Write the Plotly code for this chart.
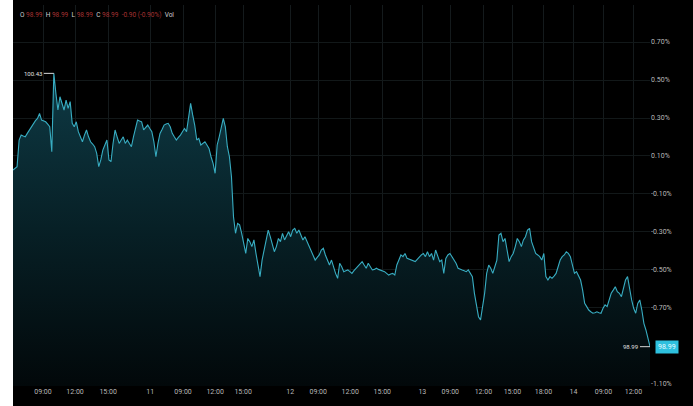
import plotly.graph_objects as go

# Percent change vs. reference close, one value per bar
pct_change = [
    0.026, 0.035, 0.044, 0.184, 0.210, 0.205, 0.201, 0.219, 0.237, 0.254, 0.272, 0.286, 0.298, 0.324, 0.289, 0.286, 0.280, 0.268, 0.254, 0.123,
    0.535, 0.430, 0.342, 0.412, 0.377, 0.342, 0.394, 0.351, 0.386, 0.272, 0.254, 0.280, 0.228, 0.201, 0.175, 0.210, 0.237, 0.201, 0.175, 0.163,
    0.149, 0.114, 0.044, 0.079, 0.131, 0.158, 0.184, 0.079, 0.070, 0.166, 0.237, 0.201, 0.166, 0.184, 0.201, 0.166, 0.184, 0.166, 0.149, 0.201,
    0.254, 0.289, 0.284, 0.280, 0.237, 0.251, 0.263, 0.245, 0.228, 0.175, 0.096, 0.166, 0.219, 0.240, 0.263, 0.268, 0.272, 0.254, 0.219, 0.201,
    0.184, 0.198, 0.210, 0.228, 0.245, 0.228, 0.316, 0.377, 0.316, 0.263, 0.184, 0.193, 0.158, 0.166, 0.175, 0.158, 0.140, 0.096, 0.061, 0.009,
    0.158, 0.201, 0.245, 0.298, 0.254, 0.149, 0.096, -0.009, -0.220, -0.307, -0.255, -0.263, -0.307, -0.369, -0.413, -0.334, -0.351, -0.377, -0.342, -0.413,
    -0.465, -0.535, -0.448, -0.395, -0.342, -0.290, -0.325, -0.360, -0.404, -0.377, -0.334, -0.351, -0.307, -0.342, -0.316, -0.299, -0.325, -0.290, -0.281, -0.307,
    -0.290, -0.316, -0.342, -0.325, -0.351, -0.377, -0.404, -0.427, -0.448, -0.434, -0.421, -0.395, -0.386, -0.421, -0.448, -0.474, -0.448, -0.491, -0.518, -0.544,
    -0.465, -0.483, -0.509, -0.504, -0.500, -0.509, -0.518, -0.504, -0.491, -0.479, -0.465, -0.456, -0.474, -0.491, -0.465, -0.483, -0.500, -0.497, -0.491, -0.497,
    -0.500, -0.504, -0.509, -0.518, -0.527, -0.521, -0.518, -0.527, -0.474, -0.448, -0.421, -0.430, -0.413, -0.439, -0.444, -0.448, -0.453, -0.456, -0.444, -0.430,
    -0.421, -0.413, -0.430, -0.404, -0.430, -0.413, -0.448, -0.395, -0.430, -0.456, -0.448, -0.518, -0.439, -0.421, -0.413, -0.430, -0.448, -0.465, -0.491, -0.497,
    -0.500, -0.504, -0.509, -0.500, -0.518, -0.535, -0.623, -0.693, -0.746, -0.763, -0.693, -0.623, -0.518, -0.474, -0.491, -0.518, -0.483, -0.448, -0.316, -0.307,
    -0.351, -0.334, -0.395, -0.456, -0.430, -0.413, -0.377, -0.334, -0.351, -0.377, -0.342, -0.325, -0.290, -0.281, -0.351, -0.386, -0.413, -0.421, -0.430, -0.448,
    -0.413, -0.535, -0.553, -0.535, -0.544, -0.532, -0.518, -0.483, -0.448, -0.430, -0.421, -0.404, -0.413, -0.430, -0.483, -0.518, -0.509, -0.535, -0.553, -0.606,
    -0.676, -0.693, -0.711, -0.720, -0.728, -0.725, -0.720, -0.725, -0.728, -0.702, -0.684, -0.693, -0.658, -0.623, -0.606, -0.588, -0.614, -0.623, -0.641, -0.588,
    -0.553, -0.535, -0.606, -0.658, -0.702, -0.728, -0.676, -0.658, -0.711, -0.781, -0.816, -0.869, -0.904,
]
bar_index = list(range(len(pct_change)))

BASE_PRICE = 99.894

# X-axis ticks (bar index of each labelled time) and labels
x_tick_pos = [14.7, 30.4, 46.6, 67.2, 83.3, 99.0, 112.7, 135.8, 149.5, 165.2, 180.9,
              200.5, 214.2, 230.4, 244.6, 259.8, 274.5, 289.2, 303.9]
x_tick_text = ["09:00", "12:00", "15:00", "11", "09:00", "12:00", "15:00", "12",
               "09:00", "12:00", "15:00", "13", "09:00", "12:00", "15:00", "18:00",
               "14", "09:00", "12:00"]

# Y-axis ticks (percent); the -0.90% label sits under the price box
y_tick_vals = [0.70, 0.50, 0.30, 0.10, -0.10, -0.30, -0.50, -0.70, -0.90, -1.10]
y_tick_text = ["0.70%", "0.50%", "0.30%", "0.10%", "-0.10%", "-0.30%", "-0.50%",
               "-0.70%", "", "-1.10%"]

Y_MIN, Y_MAX = -1.111, 0.895
X_MIN, X_MAX = 0, len(pct_change) - 1

prices = [BASE_PRICE * (1 + v / 100) for v in pct_change]
i_max = max(range(len(prices)), key=lambda i: prices[i])
last = prices[-1]
chg = last - BASE_PRICE
chg_pct = pct_change[-1]

LINE = "#38adc2"

fig = go.Figure()
fig.add_trace(go.Scatter(
    x=bar_index, y=[Y_MIN] * len(bar_index), mode="lines",
    line=dict(width=0, color="rgba(0,0,0,0)"), hoverinfo="skip", showlegend=False))
fig.add_trace(go.Scatter(
    x=bar_index, y=pct_change, mode="lines",
    line=dict(color=LINE, width=1.1),
    fill="tonexty",
    fillgradient=dict(type="vertical",
                      colorscale=[[0, "#02080a"], [0.5, "#072026"], [1, "#0e3a45"]],
                      start=Y_MIN, stop=0.55),
    hoverinfo="skip",
    showlegend=False))

fig.update_layout(
    width=693, height=406,
    margin=dict(l=13, r=43, t=5, b=20),
    paper_bgcolor="#000000", plot_bgcolor="#000000",
    font=dict(family="Roboto, Arial, sans-serif", size=7, color="#bdbdbd"),
    showlegend=False,
    xaxis=dict(range=[X_MIN, X_MAX], tickvals=x_tick_pos, ticktext=x_tick_text,
               showgrid=True, gridcolor="#141a1c", gridwidth=1, zeroline=False,
               showline=False, ticks="", tickfont=dict(size=7, color="#b8b8b8"),
               fixedrange=True),
    yaxis=dict(range=[Y_MIN, Y_MAX], tickvals=y_tick_vals, ticktext=y_tick_text,
               side="right", showgrid=True, gridcolor="#121819", gridwidth=1,
               zeroline=False, showline=False, ticks="",
               tickfont=dict(size=7, color="#b8b8b8"), fixedrange=True),
)

# white strip at the left edge of the picture
fig.add_shape(type="rect", xref="paper", yref="paper", x0=-13 / 637, x1=0,
              y0=-20 / 381, y1=1 + 5 / 381, fillcolor="#ffffff", line_width=0,
              layer="above")

# OHLC header
red = "#a83232"
grey = "#d0d0d0"
hdr = (f"<span style='color:{grey}'>O</span> <span style='color:{red}'>{last:.2f}</span>  "
       f"<span style='color:{grey}'>H</span> <span style='color:{red}'>{last:.2f}</span>  "
       f"<span style='color:{grey}'>L</span> <span style='color:{red}'>{last:.2f}</span>  "
       f"<span style='color:{grey}'>C</span> <span style='color:{red}'>{last:.2f}</span>  "
       f"<span style='color:{red}'>{chg:.2f} ({chg_pct:.2f}%)</span>  "
       f"<span style='color:{grey}'>Vol</span>")
fig.add_annotation(xref="paper", yref="paper", x=0.008, y=0.975, xanchor="left",
                   yanchor="middle", text=hdr, showarrow=False,
                   font=dict(size=6.5))

# max label
fig.add_annotation(x=bar_index[i_max], y=pct_change[i_max], text=f"{prices[i_max]:.2f}",
                   showarrow=True, arrowhead=0, arrowwidth=1, arrowcolor="#d8d8d8",
                   ax=-10, ay=0, font=dict(size=6, color="#e0e0e0"), xanchor="right")
# last label
fig.add_annotation(x=bar_index[-1], y=pct_change[-1], text=f"{last:.2f}",
                   showarrow=True, arrowhead=0, arrowwidth=1, arrowcolor="#d8d8d8",
                   ax=-10, ay=0, font=dict(size=6, color="#e0e0e0"), xanchor="right")
# current price box on the axis
fig.add_annotation(xref="paper", x=1.008, y=pct_change[-1], xanchor="left",
                   text=f"{last:.2f}", showarrow=False, bgcolor="#2ec0de",
                   font=dict(size=7, color="#e8fbff"), borderpad=2)

fig.write_html("out.html", config={"displayModeBar": False},
               post_script="document.body.style.margin='0';")
